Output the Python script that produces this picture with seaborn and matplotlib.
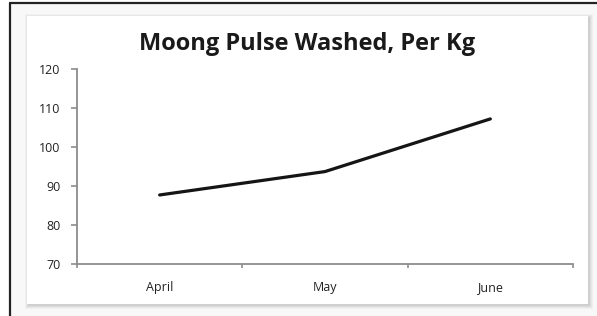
import matplotlib
matplotlib.use("Agg")
import matplotlib.pyplot as plt
from matplotlib.patches import Rectangle
import pandas as pd
import seaborn as sns

months = ["April", "May", "June"]
prices = [87.7, 93.7, 107.2]
title = "Moong Pulse Washed, Per Kg"

W, H = 597, 316

sns.set_style("white")
plt.rcParams["font.family"] = ["Open Sans", "DejaVu Sans"]

fig = plt.figure(figsize=(W / 100, H / 100), dpi=100)
fig.patch.set_facecolor("white")


def px_rect(x0, y0, x1, y1, **kw):
    # rectangle in pixel coords (top-left origin) -> figure fraction
    return Rectangle((x0 / W, 1 - y1 / H), (x1 - x0) / W, (y1 - y0) / H,
                     transform=fig.transFigure, **kw)


# light backdrop inside outer frame
fig.patches.append(px_rect(11, 4, W, H, facecolor="#f8f8f8", edgecolor="none", zorder=0))
# soft shadow around chart box
for i, a in enumerate([0.10, 0.12, 0.16, 0.2]):
    d = 4 - i
    fig.patches.append(px_rect(27 - d + 2, 16 - d + 2, 588 + d + 1, 304 + d + 1,
                               facecolor="#606060", alpha=a * 0.5, edgecolor="none", zorder=1))
fig.patches.append(px_rect(27, 16, 588, 304, facecolor="white", edgecolor="none", zorder=2))
# outer frame lines
fig.add_artist(plt.Line2D([10 / W, 10 / W], [0, 1 - 3 / H], transform=fig.transFigure,
                          color="#222222", lw=1.6, zorder=3))
fig.add_artist(plt.Line2D([10 / W, 1], [1 - 3 / H, 1 - 3 / H], transform=fig.transFigure,
                          color="#222222", lw=1.6, zorder=3))

ax = fig.add_axes([77 / W, (H - 264) / H, 496 / W, (264 - 69) / H])
ax.set_facecolor("none")
ax.set_zorder(5)

df = pd.DataFrame({"month": months, "price": prices})
sns.lineplot(data=df, x="month", y="price", ax=ax, color="#151515", lw=2.3, sort=False)

ax.set_xlim(-0.5, 2.5)
ax.set_ylim(70, 120)
ax.set_yticks(range(70, 121, 10))
ax.set_xticks(range(len(months)))
ax.set_xticklabels(months)
ax.set_xticks([-0.5, 0.5, 1.5, 2.5], minor=True)
ax.set_xlabel("")
ax.set_ylabel("")

for s in ["top", "right"]:
    ax.spines[s].set_visible(False)
for s in ["left", "bottom"]:
    ax.spines[s].set_color("#8c8c8c")
    ax.spines[s].set_linewidth(1.3)

ax.tick_params(axis="y", direction="out", length=4, width=1.2, color="#8c8c8c",
               labelsize=9, labelcolor="#222222", pad=8, left=True)
ax.tick_params(axis="x", which="major", length=0, labelsize=9, labelcolor="#222222", pad=12.5)
ax.tick_params(axis="x", which="minor", direction="out", length=3, width=1.2,
               color="#8c8c8c", bottom=True)

fig.text(307 / W, 1 - 44 / H, title, ha="center", va="center",
         fontsize=17, fontweight="bold", color="#1a1a1a")

fig.savefig("out.png", dpi=100)
